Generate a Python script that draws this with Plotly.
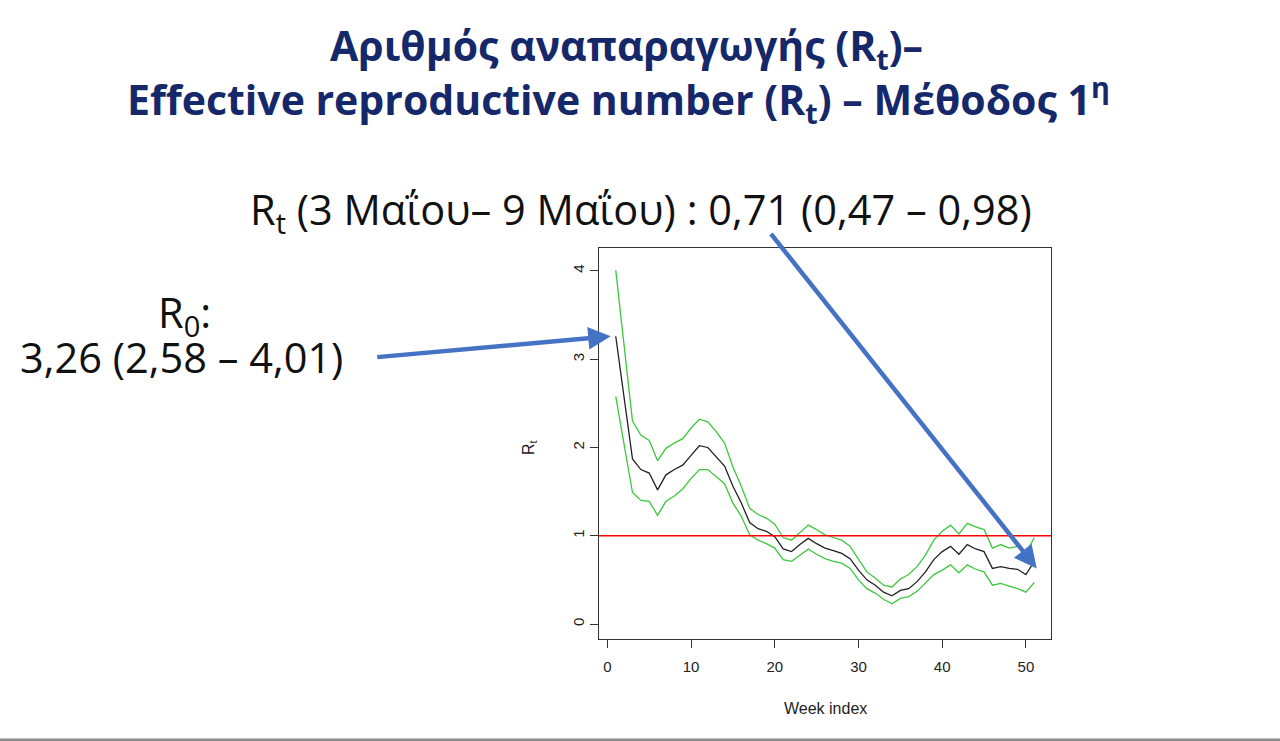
import plotly.graph_objects as go

weeks = list(range(1, 52))
rt_mean = [3.26, 2.58, 1.87, 1.75, 1.71, 1.52, 1.69, 1.75, 1.80, 1.91,
           2.02, 2.00, 1.90, 1.79, 1.56, 1.37, 1.15, 1.08, 1.05, 0.99,
           0.85, 0.82, 0.90, 0.97, 0.91, 0.86, 0.83, 0.80, 0.74, 0.61,
           0.50, 0.44, 0.36, 0.32, 0.38, 0.40, 0.48, 0.59, 0.73, 0.82,
           0.88, 0.79, 0.90, 0.85, 0.82, 0.63, 0.65, 0.63, 0.62, 0.56,
           0.71]
rt_upper = [4.01, 3.17, 2.30, 2.14, 2.08, 1.85, 1.99, 2.05, 2.10, 2.22,
            2.32, 2.29, 2.18, 2.05, 1.78, 1.56, 1.31, 1.24, 1.20, 1.13,
            0.98, 0.95, 1.03, 1.12, 1.07, 1.01, 0.98, 0.95, 0.88, 0.73,
            0.59, 0.52, 0.44, 0.42, 0.51, 0.56, 0.65, 0.78, 0.95, 1.05,
            1.12, 1.02, 1.14, 1.10, 1.07, 0.86, 0.90, 0.86, 0.88, 0.80,
            0.98]
rt_lower = [2.58, 2.05, 1.49, 1.40, 1.39, 1.23, 1.39, 1.45, 1.53, 1.65,
            1.75, 1.75, 1.67, 1.59, 1.37, 1.22, 1.01, 0.95, 0.91, 0.86,
            0.73, 0.71, 0.78, 0.85, 0.79, 0.74, 0.71, 0.69, 0.63, 0.50,
            0.40, 0.35, 0.28, 0.23, 0.29, 0.31, 0.37, 0.46, 0.56, 0.61,
            0.67, 0.58, 0.67, 0.62, 0.59, 0.44, 0.46, 0.43, 0.40, 0.36,
            0.47]
threshold = 1
x_ticks = [0, 10, 20, 30, 40, 50]
y_ticks = [0, 1, 2, 3, 4]

title_line1 = "Αριθμός αναπαραγωγής (R<sub>t</sub>)–"
title_line2 = "Effective reproductive number (R<sub>t</sub>) – Μέθοδος 1<sup>η</sup>"
rt_text = "R<sub>t</sub> (3 Μαΐου– 9 Μαΐου) : 0,71 (0,47 – 0,98)"
r0_label = "R<sub>0</sub>:"
r0_text = "3,26 (2,58 – 4,01)"

W, H = 1280, 741
GREEN = "#3cc83c"
NAVY = "#15286a"
BLUE = "#4472c4"

fig = go.Figure()
fig.add_trace(go.Scatter(x=weeks, y=rt_mean, mode="lines",
                         line=dict(color="#222222", width=1.3)))
fig.add_trace(go.Scatter(x=weeks, y=rt_upper, mode="lines",
                         line=dict(color=GREEN, width=1.3)))
fig.add_trace(go.Scatter(x=weeks, y=rt_lower, mode="lines",
                         line=dict(color=GREEN, width=1.3)))

fig.add_shape(type="line", xref="x domain", yref="y", x0=0, x1=1,
              y0=threshold, y1=threshold, line=dict(color="#ff0000", width=1.3),
              layer="above")
# bottom gray rule of the slide
fig.add_shape(type="rect", xref="paper", yref="paper", x0=0, x1=1, y0=0, y1=2.5 / H,
              line=dict(width=0), fillcolor="#8c8c8c")

axis_font = dict(family="Liberation Sans, Arial", size=15, color="#222222")
fig.update_layout(
    width=W, height=H, margin=dict(l=0, r=0, t=0, b=0),
    paper_bgcolor="white", plot_bgcolor="white", showlegend=False,
    xaxis=dict(domain=[599 / W, 1051 / W], range=[-1, 53], tickvals=x_ticks,
               ticks="outside", ticklen=8, tickcolor="#333", showline=True,
               linecolor="#333", linewidth=1, mirror=True, showgrid=False,
               zeroline=False, tickfont=axis_font, ticklabelstandoff=6),
    yaxis=dict(domain=[1 - 639 / H, 1 - 248 / H], range=[-0.17, 4.26],
               tickvals=y_ticks, tickangle=-90, ticks="outside", ticklen=8,
               tickcolor="#333", showline=True, linecolor="#333", linewidth=1,
               mirror=True, showgrid=False, zeroline=False, tickfont=axis_font),
)


def note(text, x, y, font, angle=0):
    return dict(text=text, x=x / W, y=1 - y / H, xref="paper", yref="paper",
                xanchor="center", yanchor="middle", showarrow=False,
                textangle=angle, font=font)


small = dict(family="Liberation Sans, Arial", size=16, color="#222")
title_font = dict(family="Open Sans", size=41, color=NAVY, weight="bold")
body_font = dict(family="Open Sans", size=41.5, color="#111111")

ann = [
    note("Week index", 825, 708, small),
    note("R<sub>t</sub>", 529, 447, small, angle=-90),
    note("<b>" + title_line1 + "</b>", 626, 47, title_font),
    note("<b>" + title_line2 + "</b>", 618, 100, title_font),
    note(rt_text, 641, 212, body_font),
    note(r0_label, 184, 315, body_font),
    note(r0_text, 181, 357, body_font),
]
# arrows pointing at R0 (week 1) and the last Rt estimate (week 51)
ann.append(dict(text="", x=weeks[0] - 0.6, y=rt_mean[0], xref="x", yref="y",
                showarrow=True, ax=-235, ay=21, arrowcolor=BLUE, arrowwidth=4.5,
                arrowhead=2, arrowsize=1))
ann.append(dict(text="", x=weeks[-1] + 0.3, y=rt_mean[-1] - 0.08, xref="x", yref="y",
                showarrow=True, ax=-267, ay=-336, arrowcolor=BLUE, arrowwidth=4.5,
                arrowhead=2, arrowsize=1))
fig.update_layout(annotations=ann)

fig.write_html("out.html")
